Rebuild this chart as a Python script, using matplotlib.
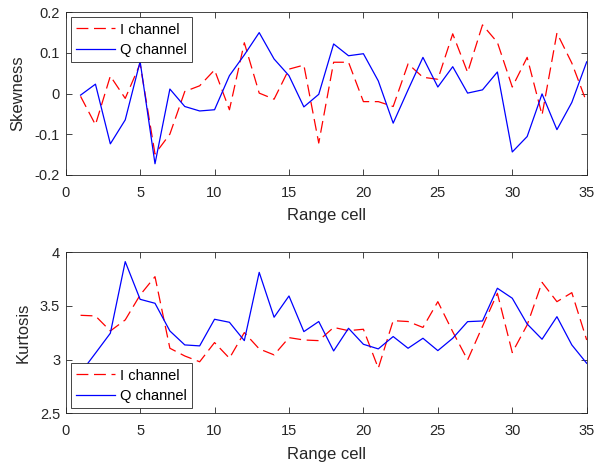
import matplotlib
matplotlib.use('Agg')
import matplotlib.pyplot as plt
import numpy as np

plt.rcParams['font.family'] = ['Liberation Sans', 'DejaVu Sans']

range_cell = np.arange(1, 36)

# skewness per range cell
skew_i = [-0.007, -0.077, 0.043, -0.012, 0.073, -0.149, -0.100, 0.005, 0.019, 0.058,
          -0.040, 0.125, 0.001, -0.014, 0.060, 0.070, -0.122, 0.077, 0.077, -0.020,
          -0.020, -0.032, 0.073, 0.040, 0.035, 0.147, 0.052, 0.169, 0.126, 0.016,
          0.089, -0.053, 0.149, 0.075, -0.022]
skew_q = [-0.004, 0.023, -0.124, -0.065, 0.079, -0.173, 0.011, -0.032, -0.043, -0.040,
          0.044, 0.095, 0.150, 0.085, 0.044, -0.033, -0.002, 0.122, 0.093, 0.098,
          0.031, -0.073, 0.009, 0.089, 0.016, 0.066, 0.001, 0.009, 0.053, -0.144,
          -0.106, -0.001, -0.089, -0.022, 0.078]

# kurtosis per range cell
kurt_i = [3.413, 3.407, 3.267, 3.370, 3.602, 3.773, 3.106, 3.034, 2.980, 3.159,
          3.013, 3.252, 3.100, 3.044, 3.205, 3.183, 3.177, 3.300, 3.270, 3.283,
          2.920, 3.363, 3.355, 3.300, 3.540, 3.260, 2.997, 3.310, 3.618, 3.066,
          3.323, 3.720, 3.540, 3.624, 3.183]
kurt_q = [2.876, 3.060, 3.246, 3.913, 3.562, 3.525, 3.267, 3.137, 3.128, 3.376,
          3.348, 3.177, 3.813, 3.395, 3.593, 3.261, 3.355, 3.081, 3.292, 3.143,
          3.100, 3.215, 3.106, 3.199, 3.084, 3.199, 3.354, 3.360, 3.665, 3.572,
          3.332, 3.190, 3.400, 3.137, 2.966]

axis_col = '#262626'
dash = (0, (9.5, 4.5))


def style_axes(ax):
    ax.tick_params(direction='in', top=True, right=True, length=4, width=0.6,
                   colors=axis_col, labelsize=10.5, labelcolor=axis_col)
    ax.tick_params(axis='x', pad=8)
    ax.tick_params(axis='y', pad=4)
    for s in ax.spines.values():
        s.set_color(axis_col)
        s.set_linewidth(0.6)
    ax.set_xlim(0, 35)
    ax.set_xticks(np.arange(0, 36, 5))
    ax.set_xlabel('Range cell', fontsize=12, color=axis_col, labelpad=6)


def add_legend(ax, loc):
    leg = ax.legend(loc=loc, fontsize=10.5, fancybox=False, handlelength=2.7,
                    handletextpad=0.3, borderaxespad=0.35, labelspacing=0.45,
                    borderpad=0.35, framealpha=1)
    leg.get_frame().set_edgecolor(axis_col)
    leg.get_frame().set_linewidth(0.6)


fig = plt.figure(figsize=(5.96, 4.68), dpi=100)

ax1 = fig.add_axes([0.1102, 0.6267, 0.8742, 0.347])
ax1.plot(range_cell, skew_i, color='red', lw=0.9, linestyle=dash, label='I channel')
ax1.plot(range_cell, skew_q, color='blue', lw=0.9, label='Q channel')
style_axes(ax1)
ax1.set_ylim(-0.2, 0.2)
ax1.set_yticks([-0.2, -0.1, 0, 0.1, 0.2])
ax1.set_yticklabels(['-0.2', '-0.1', '0', '0.1', '0.2'])
ax1.set_ylabel('Skewness', fontsize=12, color=axis_col, labelpad=7)
add_legend(ax1, 'upper left')

ax2 = fig.add_axes([0.1102, 0.1169, 0.8742, 0.344])
ax2.plot(range_cell, kurt_i, color='red', lw=0.9, linestyle=dash, label='I channel')
ax2.plot(range_cell, kurt_q, color='blue', lw=0.9, label='Q channel')
style_axes(ax2)
ax2.set_ylim(2.5, 4)
ax2.set_yticks([2.5, 3, 3.5, 4])
ax2.set_yticklabels(['2.5', '3', '3.5', '4'])
ax2.set_ylabel('Kurtosis', fontsize=12, color=axis_col, labelpad=7)
add_legend(ax2, 'lower left')

fig.savefig('out.png', dpi=100)
